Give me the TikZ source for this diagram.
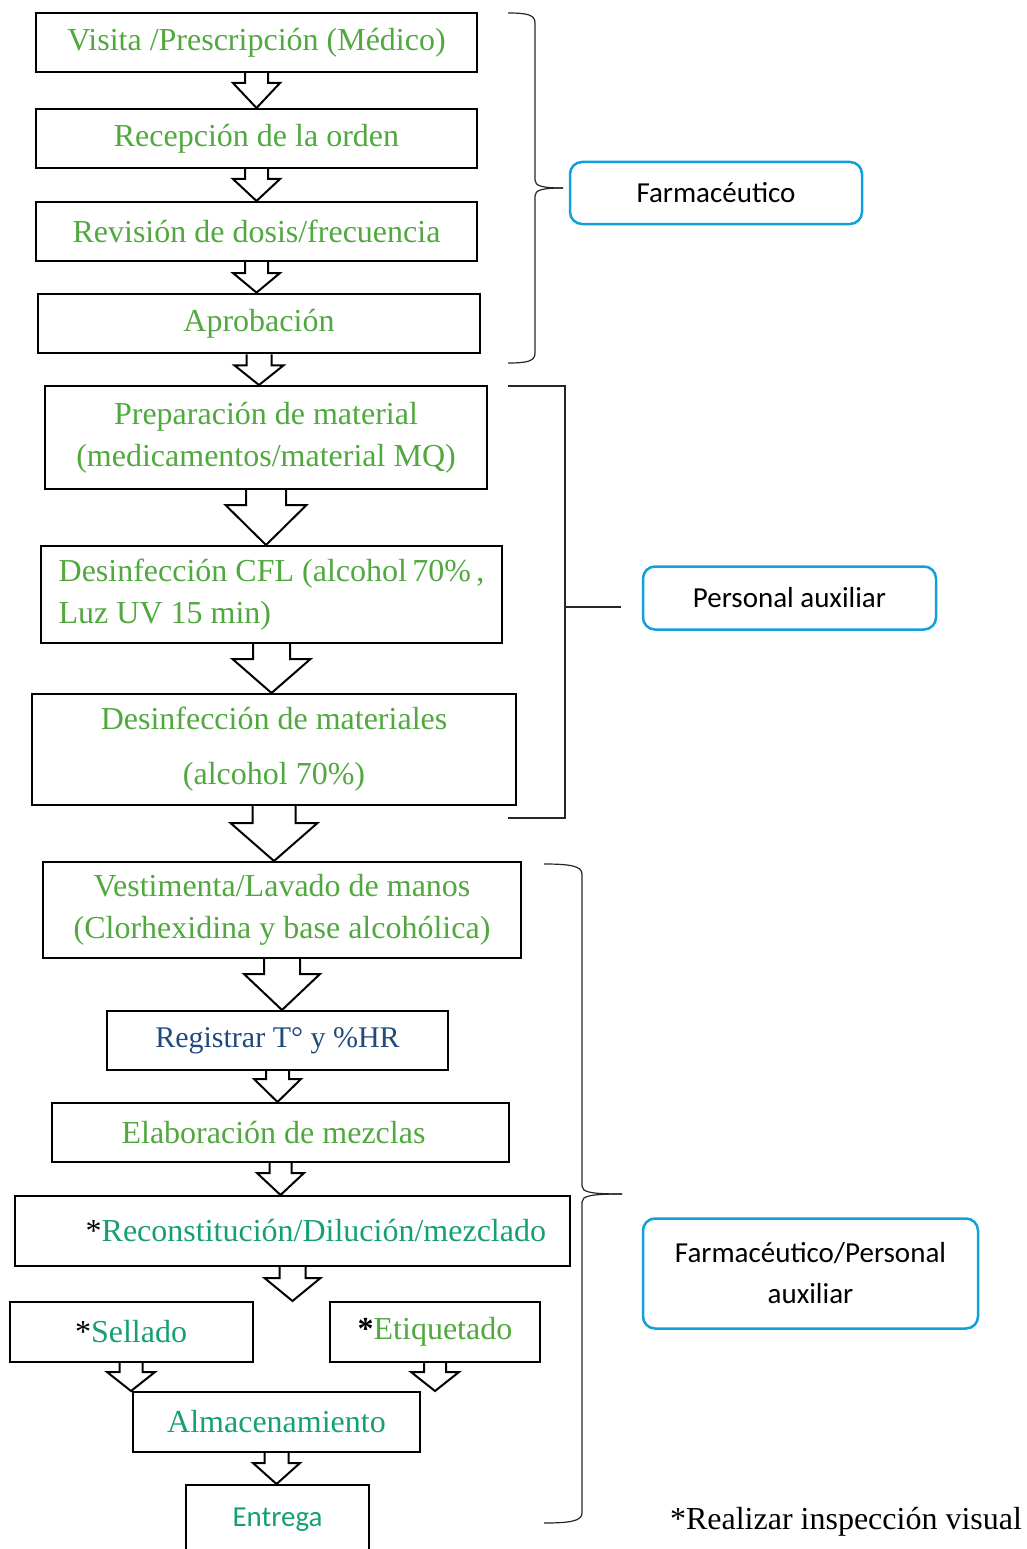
\documentclass[tikz,border=0pt]{standalone}
\usepackage{fontspec}
\setmainfont{Liberation Serif}
\newfontfamily\sansrole{Carlito}
\usepackage{tikz}
\usetikzlibrary{calc}
\definecolor{leafgreen}{HTML}{50A83E}
\definecolor{tealgreen}{HTML}{16A070}
\definecolor{navytext}{HTML}{1F4A7C}
\definecolor{roleblue}{HTML}{12A0DC}
\tikzset{
    procbox/.style={draw=black,line width=2pt,minimum height=59pt,inner sep=4pt,
      text=leafgreen,font=\fontsize{32}{42}\selectfont,align=center},
    rolebox/.style={draw=roleblue,line width=2.5pt,rounded corners=12pt,inner sep=4pt,
      text=black,font=\sansrole\fontsize{29}{41}\selectfont,align=center},
    blockarrow/.style={draw=black,line width=2pt,line join=miter},
    bracket/.style={draw=black!85,line width=1.2pt}
}
\begin{document}
\begin{tikzpicture}[x=1pt,y=-1pt]
    \useasboundingbox (0,0) rectangle (1026,1549);
    \clip (0,0) rectangle (1026,1549);
    % process chain
    \node[procbox,minimum width=441pt] (visita) at (256.5,42.5) {Visita /Prescripción (Médico)};
    \node[procbox,minimum width=441pt] (recep) at (256.5,138.5) {Recepción de la orden};
    \node[procbox,minimum width=441pt] (revis) at (256.5,231.5) {Revisión de dosis/frecuencia};
    \node[procbox,minimum width=442pt,line width=2.8pt] (aprob) at (259,323.5) {Aprobación};
    \node[procbox,minimum width=442pt,minimum height=103pt] (prep) at (266,437.5)
      {Preparación de material\\(medicamentos/material MQ)};
    \node[procbox,minimum width=461pt,minimum height=97pt,align=left] (cfl) at (271.5,594.5)
      {Desinfección CFL (alcohol\,70\%\,,\\Luz UV 15 min)};
    \node[procbox,minimum width=484pt,minimum height=111pt] (mater) at (274,749.5)
      {Desinfección de materiales\\[13pt](alcohol 70\%)};
    \node[procbox,minimum width=478pt,minimum height=96pt] (vest) at (282,910)
      {Vestimenta/Lavado de manos\\(Clorhexidina y base alcohólica)};
    \node[procbox,minimum width=341pt,text=navytext,font=\fontsize{30}{40}\selectfont] (regis) at (277.5,1040.5)
      {Registrar T° y \%HR};
    \node[procbox,minimum width=457pt] (elab) at (280.5,1132.5) {Elaboración de mezclas\hspace*{14pt}};
    \node[procbox,minimum width=555pt,minimum height=70pt,text width=507pt,inner xsep=24pt,
      align=right,text=tealgreen] (recon) at (292.5,1231)
      {\textcolor{black}{*}Reconstitución/Dilución/mezclado};
    \node[procbox,minimum width=243pt,minimum height=60pt,text=tealgreen] (sell) at (131,1332)
      {\textcolor{black}{*}Sellado};
    \node[procbox,minimum width=210pt,minimum height=60pt] (etiq) at (435,1332)
      {\textcolor{black}{\textbf{*}}Etiquetado};
    \node[procbox,minimum width=287pt,minimum height=60pt,text=tealgreen] (almac) at (276.5,1422)
      {Almacenamiento};
    \node[procbox,minimum width=183pt,anchor=north,inner ysep=0pt,text height=41pt,text depth=40pt,
      text=tealgreen,font=\sansrole\fontsize{29}{36}\selectfont] (entrega) at (277.5,1484) {Entrega};
    % block arrows: source/target/shaft half/head half/shaft length
    \foreach \a/\b/\s/\h/\l in {visita/recep/11.5/23.5/10,recep/revis/11.5/23.5/10,
        revis/aprob/11.5/23.5/11,aprob/prep/12.5/24.5/11,prep/cfl/20/40.5/15,
        cfl/mater/18.5/39/15,mater/vest/21.5/43.5/17,vest/regis/18/38/15,
        regis/elab/11.5/23.5/8,elab/recon/11/23.5/10,recon/sell/13/28/11,
        sell/almac/11.5/24/9,etiq/almac/11/24/9,almac/entrega/12/23.5/10}
        \draw[blockarrow] ($(\a.south)+(-\s,0)$) -- ++(0,\l) -- ++(\s-\h,0)
          -- (\a.south |- \b.north) -- ($(\a.south)+(\h,\l)$) -- ++(\s-\h,0) -- ++(0,-\l);
    % brackets
    \draw[bracket] (508,13) .. controls (528,13) and (535,15) .. (535,23) -- (535,180)
      .. controls (535,186) and (542,188) .. (563,188);
    \draw[bracket] (563,188) .. controls (542,188) and (535,190) .. (535,196) -- (535,353)
      .. controls (535,361) and (528,363) .. (508,363);
    \draw[bracket] (508,386) -- (565,386) -- (565,818) -- (508,818);
    \draw[bracket] (565,607) -- (621,607);
    \draw[bracket] (544,864) .. controls (570,864) and (582,866) .. (582,874) -- (582,1186)
      .. controls (582,1192) and (590,1194) .. (622,1194);
    \draw[bracket] (622,1194) .. controls (590,1194) and (582,1196) .. (582,1202) -- (582,1513)
      .. controls (582,1521) and (570,1523) .. (544,1523);
    % roles
    \node[rolebox,minimum width=292pt,minimum height=62pt] (farm) at (716,193) {Farmacéutico};
    \node[rolebox,minimum width=293pt,minimum height=63pt] (paux) at (789.5,598) {Personal auxiliar};
    \node[rolebox,minimum width=335pt,minimum height=110pt] (fpaux) at (810.5,1273.5)
      {Farmacéutico/Personal\\auxiliar};
    \node[font=\fontsize{32}{40}\selectfont,inner sep=0pt] (nota) at (846,1522) {*Realizar inspección visual};
\end{tikzpicture}
\end{document}
